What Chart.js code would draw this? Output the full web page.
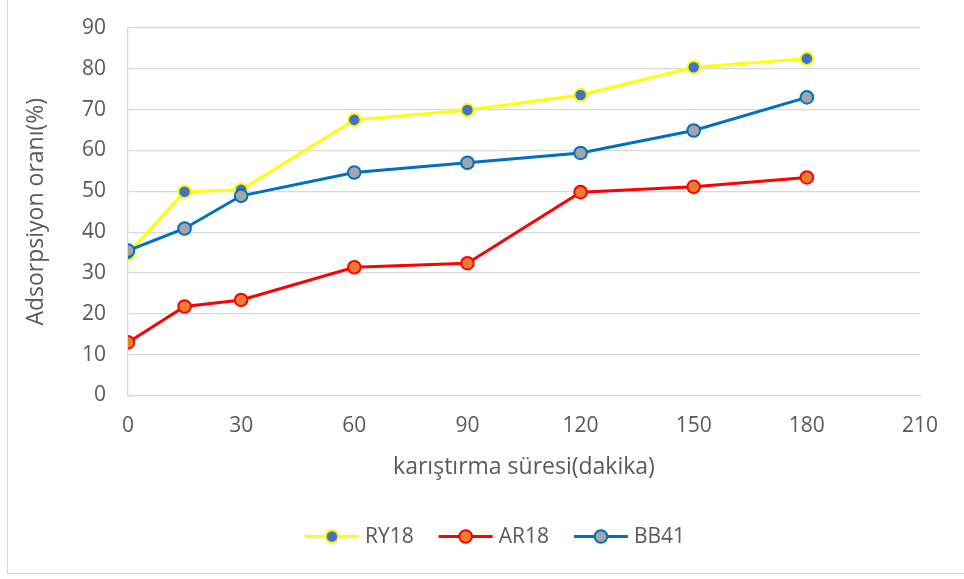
<!DOCTYPE html>
<html>
<head>
<meta charset="utf-8">
<script src="https://cdn.jsdelivr.net/npm/chart.js@4.4.1/dist/chart.umd.min.js"></script>
<style>
  html, body { margin: 0; padding: 0; background: #fff; }
  #wrap { position: relative; width: 964px; height: 579px; overflow: hidden; }
  #frame { position: absolute; left: 7px; top: -1px; width: 1000px; height: 575px; border: 1.5px solid #d9d9d9; box-sizing: border-box; }
  canvas { position: absolute; left: 0; top: 0; }
</style>
</head>
<body>
<div id="wrap">
  <div id="frame"></div>
  <canvas id="c" width="964" height="579"></canvas>
</div>
<script>
const times = [0, 15, 30, 60, 90, 120, 150, 180];
const ry18 = [34.7, 49.9, 50.4, 67.5, 69.9, 73.6, 80.4, 82.5];
const ar18 = [13.0, 21.8, 23.4, 31.4, 32.4, 49.8, 51.1, 53.4];
const bb41 = [35.5, 40.9, 48.9, 54.6, 57.0, 59.4, 64.9, 73.0];
const seriesNames = ['RY18', 'AR18', 'BB41'];
const xTitle = 'karıştırma süresi(dakika)';
const yTitle = 'Adsorpsiyon oranı(%)';

const FONT = "'Open Sans', sans-serif";
const TEXT = '#595959';
const GRID = '#d9d9d9';

function pts(vals) { return times.map((t, i) => ({ x: t, y: vals[i] })); }

const styles = [
  { line: '#FFFF00', fill: '#4472C4', order: 2 },
  { line: '#FF0000', fill: '#ED7D31', order: 1 },
  { line: '#0070C0', fill: '#A5A5A5', order: 0 }
];
const seriesData = [ry18, ar18, bb41];

const datasets = seriesNames.map((n, i) => ({
  label: n,
  data: pts(seriesData[i]),
  borderColor: styles[i].line,
  backgroundColor: styles[i].fill,
  pointBackgroundColor: styles[i].fill,
  pointBorderColor: styles[i].line,
  pointBorderWidth: 2,
  pointRadius: 6.3,
  borderWidth: 3,
  tension: 0,
  order: styles[i].order
}));

const legendPlugin = {
  id: 'excelLegend',
  afterDraw(chart) {
    const ctx = chart.ctx;
    ctx.save();
    ctx.font = "21px " + FONT;
    const lineLen = 54, gapText = 6, gapItem = 25;
    const items = chart.data.datasets.map(d => ({ d, w: ctx.measureText(d.label).width }));
    const total = items.reduce((s, it) => s + lineLen + gapText + it.w, 0) + gapItem * (items.length - 1);
    let x = 495 - total / 2;
    const y = 536.5;
    items.forEach(it => {
      const d = it.d;
      ctx.strokeStyle = d.borderColor;
      ctx.lineWidth = 3;
      ctx.beginPath();
      ctx.moveTo(x, y);
      ctx.lineTo(x + lineLen, y);
      ctx.stroke();
      ctx.beginPath();
      ctx.arc(x + lineLen / 2, y, 6.3, 0, Math.PI * 2);
      ctx.fillStyle = d.pointBackgroundColor;
      ctx.fill();
      ctx.lineWidth = 2;
      ctx.strokeStyle = d.pointBorderColor;
      ctx.stroke();
      ctx.fillStyle = TEXT;
      ctx.textBaseline = 'middle';
      ctx.textAlign = 'left';
      ctx.fillText(d.label, x + lineLen + gapText, y + 1);
      x += lineLen + gapText + it.w + gapItem;
    });
    ctx.restore();
  }
};

new Chart(document.getElementById('c'), {
  type: 'line',
  data: { datasets },
  options: {
    responsive: false,
    animation: false,
    events: [],
    layout: { padding: { top: 28, right: 44, bottom: 97.5, left: 8 } },
    plugins: { legend: { display: false }, tooltip: { enabled: false } },
    scales: {
      x: {
        type: 'linear',
        min: 0, max: 210,
        afterFit(s) { s.height = 86; },
        ticks: { stepSize: 30, color: TEXT, font: { family: FONT, size: 21 }, padding: 18 },
        grid: { display: false, drawTicks: false },
        border: { display: true, color: GRID, width: 1.3 },
        title: { display: true, text: xTitle, color: TEXT, font: { family: FONT, size: 23 }, padding: { top: 0, bottom: 0 } }
      },
      y: {
        min: 0, max: 90,
        afterFit(s) { s.width = 120; },
        ticks: { stepSize: 10, color: TEXT, font: { family: FONT, size: 21 }, padding: 0 },
        grid: { color: GRID, lineWidth: 1.3, drawTicks: true, tickLength: 22, tickColor: 'rgba(0,0,0,0)' },
        border: { display: true, color: GRID, width: 1.3 },
        title: { display: true, text: yTitle, color: TEXT, font: { family: FONT, size: 23 }, padding: { top: 15, bottom: 0 } }
      }
    }
  },
  plugins: [legendPlugin]
});
</script>
</body>
</html>
